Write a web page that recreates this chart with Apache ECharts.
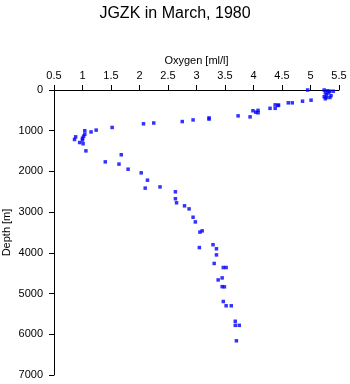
<!DOCTYPE html>
<html>
<head>
<meta charset="utf-8">
<script src="https://cdn.jsdelivr.net/npm/echarts@6/dist/echarts.min.js"></script>
<style>html,body{margin:0;padding:0;background:#fff}#c{width:350px;height:384px}</style>
</head>
<body>
<div id="c"></div>
<script>
var titleText = 'JGZK in March, 1980';
var xName = 'Oxygen [ml/l]';
var yName = 'Depth [m]';
var oxygen = [4.95,5.24,5.30,5.34,5.40, 5.26,5.32,5.28,5.24,5.28,5.34,5.26,5.36, 5.01,4.86,4.68,4.61,
  4.44,4.38,4.43,4.29,4.38, 4.08,4.08,4.04,3.99,3.94, 3.73,3.22,3.22,2.94,2.75, 2.25,2.07,1.52,1.24,1.15,
  1.04,1.04,1.02,1.00,1.00, 0.88,0.86,0.95,1.01,1.06, 1.68,1.40,1.64,1.80,2.03, 2.14,2.10,2.36,2.63,2.63,
  2.65,2.79,2.87,2.94,2.98, 3.06,3.10,3.05,3.29,3.35, 3.35,3.31,3.47,3.52,3.45, 3.38,3.45,3.49,3.47,3.52,
  3.61,3.68,3.68,3.75,3.70];
var depth = [0,0,20,30,30, 70,70,120,165,185,185,215,140, 250,275,315,315,
  370,365,380,450,450, 500,560,545,510,660, 635,685,715,735,775, 810,830,920,985,1030,
  1000,1085,1135,1185,1230, 1150,1215,1290,1320,1495, 1590,1765,1820,1945,2035, 2215,2410,2380,2500,2670,
  2770,2845,2920,3125,3240, 3490,3460,3870,3800,3900, 4050,4260,4360,4360,4615, 4665,4830,4835,5195,5300,
  5300,5680,5780,5780,6160];

var pts = oxygen.map(function(v,i){return [v, depth[i]];});
var font = 'Liberation Sans, Arial, Helvetica, sans-serif';
var chart = echarts.init(document.getElementById('c'), null, {renderer:'canvas'});
chart.setOption({
  animation: false,
  backgroundColor: '#fff',
  title: {text: titleText, left: 'center', top: 1, textStyle: {fontFamily: font, fontSize: 16, fontWeight: 'normal', color: '#000'}},
  grid: {left: 54, right: 11, top: 90, bottom: 9, containLabel: false, outerBoundsMode: 'none'},
  xAxis: {
    type: 'value', position: 'top', min: 0.5, max: 5.5, interval: 0.5,
    name: xName, nameLocation: 'middle', nameGap: 24, nameMoveOverlap: false,
    nameTextStyle: {fontFamily: font, fontSize: 11, color: '#000'},
    axisLine: {show: true, lineStyle: {color: '#000', width: 1}},
    axisTick: {show: true, length: 5, lineStyle: {color: '#000'}},
    axisLabel: {fontFamily: font, fontSize: 11, color: '#000', margin: 9, formatter: function(v){return String(v);}},
    splitLine: {show: false}
  },
  yAxis: {
    type: 'value', inverse: true, min: 0, max: 7000, interval: 1000,
    name: yName, nameLocation: 'middle', nameGap: 42, nameMoveOverlap: false,
    nameTextStyle: {fontFamily: font, fontSize: 11, color: '#000'},
    axisLine: {show: true, lineStyle: {color: '#000', width: 1}},
    axisTick: {show: true, length: 5, lineStyle: {color: '#000'}},
    axisLabel: {fontFamily: font, fontSize: 11, color: '#000', margin: 11, formatter: function(v){return String(v);}},
    splitLine: {show: false}
  },
  series: [{
    type: 'scatter', data: pts, symbol: 'rect', symbolSize: 3.5,
    itemStyle: {color: '#0000ff'}
  }]
});
</script>
</body>
</html>
